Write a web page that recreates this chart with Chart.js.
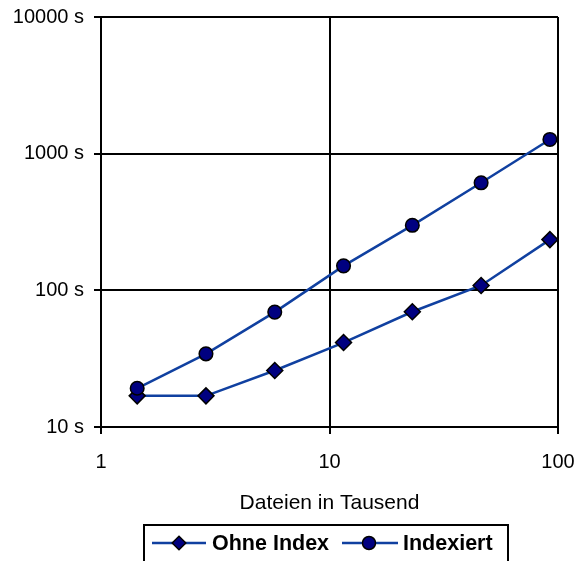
<!DOCTYPE html>
<html>
<head>
<meta charset="utf-8">
<script src="https://cdn.jsdelivr.net/npm/chart.js@4/dist/chart.umd.min.js"></script>
<style>
  html, body { margin: 0; padding: 0; background: #fff; }
  #wrap { width: 576px; height: 561px; position: relative; }
</style>
</head>
<body>
<div id="wrap"><canvas id="c" width="576" height="561"></canvas></div>
<script>
// Number of files (thousands) and run times in seconds
const fileCounts = [1.44, 2.88, 5.76, 11.52, 23.04, 46.08, 92.16];
const ohneIndex  = [16.9, 16.9, 25.9, 41.5, 69.7, 108.6, 235];
const indexiert  = [19.2, 34.3, 69.3, 151, 299, 612, 1271];

const xTicks = [1, 10, 100];
const yTicks = [10, 100, 1000, 10000];

const seriesNames = ['Ohne Index', 'Indexiert'];
const lineColor = '#1040a0';
const markerFill = '#000080';
const FONT = '"Liberation Sans", Arial, sans-serif';

const toPoints = ys => fileCounts.map((x, i) => ({ x, y: ys[i] }));

// Legend box under the plot, with line + marker samples
const legendPlugin = {
  id: 'boxLegend',
  afterDraw(chart) {
    const ctx = chart.ctx;
    ctx.save();
    ctx.strokeStyle = '#000';
    ctx.lineWidth = 2;
    ctx.strokeRect(144, 525, 364, 45);

    const cy = 543;
    const items = [
      { x0: 152, x1: 206, mx: 179, tx: 212, style: 'diamond', label: seriesNames[0] },
      { x0: 342, x1: 398, mx: 369, tx: 403, style: 'circle', label: seriesNames[1] }
    ];
    items.forEach(it => {
      ctx.strokeStyle = lineColor;
      ctx.lineWidth = 2.5;
      ctx.beginPath();
      ctx.moveTo(it.x0, cy);
      ctx.lineTo(it.x1, cy);
      ctx.stroke();

      ctx.fillStyle = markerFill;
      ctx.strokeStyle = '#000';
      ctx.lineWidth = 1.5;
      ctx.beginPath();
      if (it.style === 'circle') {
        ctx.arc(it.mx, cy, 6.5, 0, Math.PI * 2);
      } else {
        const r = 6.8;
        ctx.moveTo(it.mx, cy - r);
        ctx.lineTo(it.mx + r, cy);
        ctx.lineTo(it.mx, cy + r);
        ctx.lineTo(it.mx - r, cy);
        ctx.closePath();
      }
      ctx.fill();
      ctx.stroke();

      ctx.fillStyle = '#000';
      ctx.font = 'bold 21.5px ' + FONT;
      ctx.textAlign = 'left';
      ctx.textBaseline = 'middle';
      ctx.fillText(it.label, it.tx, cy + 1);
    });
    ctx.restore();
  }
};

new Chart(document.getElementById('c'), {
  type: 'line',
  data: {
    datasets: [
      {
        label: seriesNames[0],
        data: toPoints(ohneIndex),
        borderColor: lineColor,
        borderWidth: 2.5,
        backgroundColor: markerFill,
        pointStyle: 'rectRot',
        pointRadius: 8,
        pointBorderColor: '#000',
        pointBorderWidth: 1.5,
        pointBackgroundColor: markerFill,
        tension: 0,
        order: 1
      },
      {
        label: seriesNames[1],
        data: toPoints(indexiert),
        borderColor: lineColor,
        borderWidth: 2.5,
        backgroundColor: markerFill,
        pointStyle: 'circle',
        pointRadius: 6.8,
        pointBorderColor: '#000',
        pointBorderWidth: 1.5,
        pointBackgroundColor: markerFill,
        tension: 0,
        order: 0
      }
    ]
  },
  options: {
    responsive: false,
    animation: false,
    events: [],
    layout: { padding: { top: 17, right: 18, left: 0, bottom: 0 } },
    plugins: {
      legend: { display: false },
      tooltip: { enabled: false }
    },
    scales: {
      x: {
        type: 'logarithmic',
        min: 1,
        max: 100,
        afterBuildTicks: s => { s.ticks = xTicks.map(v => ({ value: v })); },
        afterFit: s => { s.height = 134; s.paddingLeft = 0; s.paddingRight = 0; },
        ticks: {
          color: '#000',
          font: { family: FONT, size: 20 },
          padding: 16,
          maxRotation: 0,
          callback: v => String(v)
        },
        grid: { color: '#000', lineWidth: 2, tickLength: 7, drawTicks: true },
        border: { display: true, color: '#000', width: 2 },
        title: {
          display: true,
          text: 'Dateien in Tausend',
          color: '#000',
          font: { family: FONT, size: 21 },
          padding: { top: 0, bottom: 45 }
        }
      },
      y: {
        type: 'logarithmic',
        min: 10,
        max: 10000,
        afterBuildTicks: s => { s.ticks = yTicks.map(v => ({ value: v })); },
        afterFit: s => { s.width = 101; s.paddingTop = 0; s.paddingBottom = 0; },
        ticks: {
          color: '#000',
          font: { family: FONT, size: 20 },
          padding: 10,
          callback: v => v + ' s'
        },
        grid: { color: '#000', lineWidth: 2, tickLength: 7, drawTicks: true },
        border: { display: true, color: '#000', width: 2 }
      }
    }
  },
  plugins: [legendPlugin]
});
</script>
</body>
</html>
